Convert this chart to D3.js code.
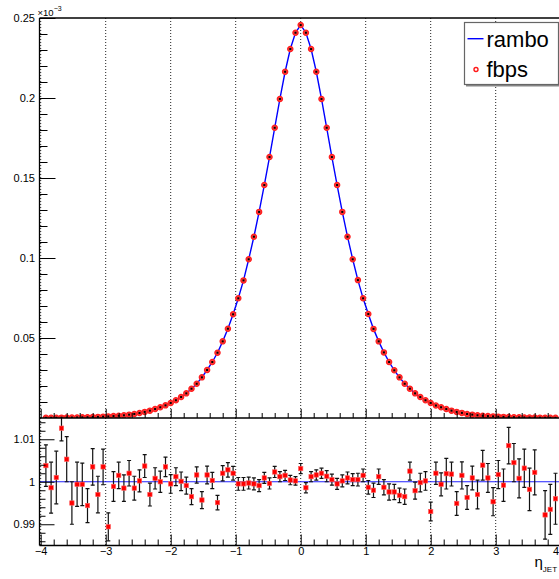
<!DOCTYPE html>
<html>
<head>
<meta charset="utf-8">
<script src="https://cdn.jsdelivr.net/npm/d3@7/dist/d3.min.js"></script>
<style>
  html, body { margin: 0; padding: 0; background: #fff; }
  svg { display: block; font-family: "Liberation Sans", Arial, Helvetica, sans-serif; }
</style>
</head>
<body>
<svg id="chart" width="559" height="579"></svg>
<script>
// ---------------- DATA ----------------
// bin centres: multiples of 0.08 from -3.92 to 3.92
const binIndex = d3.range(-49, 50);
const binWidth = 0.08;

// rambo distribution (units of 1e-3)
const rambo = [
  0.00014, 0.00016, 0.00019, 0.00022, 0.00026, 0.0003, 0.00036, 0.00042, 0.0005, 0.0006, 0.0007, 0.00085, 0.0010, 0.0012,
  0.0014, 0.0017, 0.0021, 0.0025, 0.0031, 0.0038, 0.0046, 0.0056, 0.0067, 0.0079, 0.0094, 0.0111, 0.0131, 0.0154, 0.0183, 0.0214,
  0.0254, 0.0300, 0.0350, 0.0408, 0.0479, 0.0558, 0.0648, 0.0748, 0.0860, 0.0992, 0.1133, 0.1288, 0.1456, 0.1631, 0.1814, 0.1994, 0.2164, 0.2306, 0.2408,
  0.2456,
  0.2408, 0.2306, 0.2164, 0.1994, 0.1814, 0.1631, 0.1456, 0.1288, 0.1133, 0.0992, 0.0862, 0.0748, 0.0650, 0.0557, 0.0479, 0.0410, 0.0350, 0.0298, 0.0254,
  0.0214, 0.0183, 0.0154, 0.0131, 0.0111, 0.0094, 0.0078, 0.0067, 0.0056, 0.0046, 0.0038, 0.0032, 0.0025, 0.0021, 0.0017, 0.0014,
  0.0012, 0.0010, 0.00085, 0.0007, 0.0006, 0.0005, 0.00042, 0.00036, 0.0003, 0.00026, 0.00022, 0.00019, 0.00016, 0.00014
];

// fbps distribution (units of 1e-3), read at the same bins
const fbps = [
  0.00014, 0.00016, 0.00019, 0.00022, 0.00026, 0.0003, 0.00036, 0.00042, 0.0005, 0.0006, 0.0007, 0.00085, 0.0010, 0.0012,
  0.0014, 0.0017, 0.0021, 0.0025, 0.0031, 0.0038, 0.0046, 0.0056, 0.0067, 0.0079, 0.0094, 0.0111, 0.0131, 0.0154, 0.0183, 0.0214,
  0.0254, 0.0300, 0.0350, 0.0408, 0.0479, 0.0558, 0.0648, 0.0748, 0.0860, 0.0992, 0.1133, 0.1288, 0.1456, 0.1631, 0.1814, 0.1994, 0.2164, 0.2306, 0.2408,
  0.2456,
  0.2408, 0.2306, 0.2164, 0.1994, 0.1814, 0.1631, 0.1456, 0.1288, 0.1133, 0.0992, 0.0862, 0.0748, 0.0650, 0.0557, 0.0479, 0.0410, 0.0350, 0.0298, 0.0254,
  0.0214, 0.0183, 0.0154, 0.0131, 0.0111, 0.0094, 0.0078, 0.0067, 0.0056, 0.0046, 0.0038, 0.0032, 0.0025, 0.0021, 0.0017, 0.0014,
  0.0012, 0.0010, 0.00085, 0.0007, 0.0006, 0.0005, 0.00042, 0.00036, 0.0003, 0.00026, 0.00022, 0.00019, 0.00016, 0.00014
];

// ratio fbps / rambo and its error
const ratio = [
  1.0038, 0.9986, 1.0010, 1.0126, 1.0053, 0.9950, 0.9994, 0.9994, 0.9944, 1.0035, 0.9970, 1.0035, 0.9894, 0.9989, 1.0015,
  0.9985, 1.0020, 0.9985, 1.0002, 1.0037, 0.9970, 1.0008, 1.0000, 1.0035, 0.9995, 1.0012, 1.0001, 0.9991, 0.9965, 1.0016,
  0.9957, 1.0016, 1.0003, 0.9951, 1.0020, 1.0028, 1.0020, 0.9995, 0.9995, 0.9997, 0.9995, 0.9991, 1.0009, 0.9996, 1.0023,
  1.0012, 1.0015, 1.0004, 1.0002,
  1.0031,
  0.9986, 1.0012, 1.0016, 1.0020, 1.0013, 1.0005, 0.9995, 1.0002, 1.0009, 1.0005, 1.0005, 1.0015, 0.9987, 0.9980, 1.0012,
  0.9987, 0.9976, 0.9976, 0.9968, 0.9965, 1.0025, 0.9979, 0.9998, 1.0002, 0.9930, 1.0020, 0.9994, 1.0019, 1.0018, 0.9949,
  1.0015, 0.9963, 1.0009, 0.9970, 1.0039, 1.0009, 0.9953, 1.0017, 0.9992, 1.0085, 1.0045, 1.0008, 1.0032, 0.9982, 1.0022,
  0.9830, 0.9922, 0.9935, 0.9960
];
const ratioErr = [
  0.0049, 0.0060, 0.0062, 0.0030, 0.0053, 0.0050, 0.0052, 0.0050, 0.0040, 0.0043, 0.0043, 0.0042, 0.0033, 0.0035, 0.0031,
  0.0031, 0.0030, 0.0028, 0.0026, 0.0027, 0.0027, 0.0025, 0.0025, 0.0023, 0.0022, 0.0021, 0.0022, 0.0020, 0.0019, 0.0019,
  0.0020, 0.0021, 0.0019, 0.0017, 0.0018, 0.0017, 0.0016, 0.0015, 0.0015, 0.0014, 0.0014, 0.0014, 0.0013, 0.0013, 0.0013,
  0.0012, 0.0012, 0.0011, 0.0010,
  0.0012,
  0.0012, 0.0012, 0.0012, 0.0012, 0.0013, 0.0013, 0.0013, 0.0014, 0.0014, 0.0014, 0.0015, 0.0015, 0.0016, 0.0017, 0.0018,
  0.0018, 0.0019, 0.0018, 0.0017, 0.0018, 0.0021, 0.0020, 0.0022, 0.0022, 0.0022, 0.0026, 0.0027, 0.0036, 0.0028, 0.0028,
  0.0032, 0.0028, 0.0028, 0.0034, 0.0035, 0.0034, 0.0033, 0.0033, 0.0038, 0.0043, 0.0045, 0.0046, 0.0045, 0.0050, 0.0053,
  0.0055, 0.0057, 0.0059, 0.0060
];

const topTickLabels = ["0.05", "0.1", "0.15", "0.2", "0.25"];
const topTickValues = [0.05, 0.1, 0.15, 0.2, 0.25];
const ratioTickLabels = ["0.99", "1", "1.01"];
const ratioTickValues = [0.99, 1.0, 1.01];
const xTickValues = [-4, -3, -2, -1, 0, 1, 2, 3, 4];
const legendLabels = ["rambo", "fbps"];
const yExponentLabel = "\u00d710";
const yExponentSup = "\u22123";
const xTitle = "\u03b7";
const xTitleSub = "JET";

// ---------------- LAYOUT ----------------
const svg = d3.select("#chart");
const W = 559, H = 579;
svg.append("rect").attr("width", W).attr("height", H).attr("fill", "#fff");

const frameLeft = 39.5, topY = 18, midY = 418, botY = 545.5, frameRight = 600;
const x = d3.scaleLinear().domain([-4, 4]).range([40.7, 560.7]);
const yTop = d3.scaleLinear().domain([0, 0.25]).range([midY, topY]);
const yRat = d3.scaleLinear().domain([0.985, 1.015]).range([botY, midY]);

const centres = binIndex.map(k => +(k * binWidth).toFixed(2));
const topData = centres.map((c, i) => ({ x: c, r: rambo[i], f: fbps[i] }));
const ratData = centres.map((c, i) => ({ x: c, v: ratio[i], e: ratioErr[i] }));

const defs = svg.append("defs");
defs.append("clipPath").attr("id", "clipTop").append("rect")
  .attr("x", frameLeft).attr("y", topY).attr("width", frameRight - frameLeft).attr("height", midY - topY);
defs.append("clipPath").attr("id", "clipRat").append("rect")
  .attr("x", frameLeft).attr("y", midY).attr("width", frameRight - frameLeft).attr("height", botY - midY);

// grid lines (dotted, integer x)
const gridVals = xTickValues.filter(v => x(v) < W);
[[topY, midY], [midY, botY]].forEach(([y0, y1]) => {
  svg.append("g").selectAll("line").data(gridVals).join("line")
    .attr("x1", d => x(d)).attr("x2", d => x(d))
    .attr("y1", y0).attr("y2", y1)
    .attr("stroke", "#222").attr("stroke-width", 1)
    .attr("stroke-dasharray", "1,2");
});

// ---------------- TOP PANEL ----------------
const gTop = svg.append("g").attr("clip-path", "url(#clipTop)");
gTop.append("path").datum(topData)
  .attr("d", d3.line().x(d => x(d.x)).y(d => yTop(d.r)))
  .attr("fill", "none").attr("stroke", "#0000ff").attr("stroke-width", 1.4);

const mk = gTop.append("g").selectAll("g").data(topData).join("g")
  .attr("transform", d => `translate(${x(d.x)},${yTop(d.f)})`);
mk.append("circle").attr("r", 2.6)
  .attr("fill", "#ff3a3a").attr("stroke", "#ff2020").attr("stroke-width", 1.3);
mk.append("rect").attr("x", -1).attr("y", -1).attr("width", 2).attr("height", 2).attr("fill", "#000");

// ---------------- RATIO PANEL ----------------
const gRat = svg.append("g").attr("clip-path", "url(#clipRat)");
gRat.append("line")
  .attr("x1", frameLeft).attr("x2", frameRight)
  .attr("y1", yRat(1)).attr("y2", yRat(1))
  .attr("stroke", "#2020ff").attr("stroke-width", 1.2);

const visRat = ratData.filter(d => d.v >= 0.985 && d.v <= 1.015);
const eb = gRat.append("g").selectAll("g").data(visRat).join("g");
eb.append("line")
  .attr("x1", d => x(d.x)).attr("x2", d => x(d.x))
  .attr("y1", d => yRat(d.v - d.e)).attr("y2", d => yRat(d.v + d.e))
  .attr("stroke", "#111").attr("stroke-width", 1.2);
eb.append("line")
  .attr("x1", d => x(d.x) - 2).attr("x2", d => x(d.x) + 2)
  .attr("y1", d => yRat(d.v + d.e)).attr("y2", d => yRat(d.v + d.e))
  .attr("stroke", "#111").attr("stroke-width", 1.2);
eb.append("line")
  .attr("x1", d => x(d.x) - 2).attr("x2", d => x(d.x) + 2)
  .attr("y1", d => yRat(d.v - d.e)).attr("y2", d => yRat(d.v - d.e))
  .attr("stroke", "#111").attr("stroke-width", 1.2);
eb.append("rect")
  .attr("x", d => x(d.x) - 2.2).attr("y", d => yRat(d.v) - 2.2)
  .attr("width", 4.4).attr("height", 4.4)
  .attr("fill", "#ff0000").attr("stroke", "#ff6060").attr("stroke-width", 0.6);

// ---------------- AXES ----------------
const fontSize = 11;
function styleAxis(g) {
  g.select(".domain").remove();
  g.selectAll("line").attr("stroke", "#000").attr("stroke-width", 1);
  g.selectAll("text").attr("font-size", fontSize).attr("fill", "#000")
    .attr("font-family", "Liberation Sans, Arial, sans-serif");
}

// top panel y ticks (inside)
const topMinor = d3.range(1, 25).map(i => i * 0.01).filter(v => Math.round(v * 100) % 5 !== 0);
svg.append("g").attr("transform", `translate(${frameLeft},0)`)
  .call(d3.axisRight(yTop).tickValues(topMinor).tickSize(8).tickFormat(""))
  .call(styleAxis);
svg.append("g").attr("transform", `translate(${frameLeft},0)`)
  .call(d3.axisRight(yTop).tickValues(topTickValues).tickSize(16).tickFormat(""))
  .call(styleAxis);
svg.append("g").attr("transform", `translate(${frameLeft},0)`)
  .call(d3.axisLeft(yTop).tickValues(topTickValues).tickSize(0).tickPadding(4.5)
    .tickFormat((d, i) => topTickLabels[i]))
  .call(styleAxis);

// ratio panel y ticks
const ratMinor = d3.range(-7, 8).map(i => 1 + i * 0.002).filter(v => Math.abs((v - 1) * 1000 % 10) > 0.5 && Math.abs((v - 1) * 1000 % 10) < 9.5);
svg.append("g").attr("transform", `translate(${frameLeft},0)`)
  .call(d3.axisRight(yRat).tickValues(ratMinor).tickSize(6).tickFormat(""))
  .call(styleAxis);
svg.append("g").attr("transform", `translate(${frameLeft},0)`)
  .call(d3.axisRight(yRat).tickValues(ratioTickValues).tickSize(15).tickFormat(""))
  .call(styleAxis);
svg.append("g").attr("transform", `translate(${frameLeft},0)`)
  .call(d3.axisLeft(yRat).tickValues(ratioTickValues).tickSize(0).tickPadding(4.5)
    .tickFormat((d, i) => ratioTickLabels[i]))
  .call(styleAxis);

// x ticks
const xMinor = d3.range(-20, 21).map(i => i * 0.2).filter(v => Math.abs(v - Math.round(v)) > 0.01);
[midY, botY].forEach((yy, j) => {
  svg.append("g").attr("transform", `translate(0,${yy})`)
    .call(d3.axisTop(x).tickValues(xMinor).tickSize(j === 0 ? 5 : 6).tickFormat(""))
    .call(styleAxis);
  svg.append("g").attr("transform", `translate(0,${yy})`)
    .call(d3.axisTop(x).tickValues(xTickValues).tickSize(j === 0 ? 9 : 11).tickFormat(""))
    .call(styleAxis);
});
const xLab = svg.append("g").attr("transform", `translate(0,${botY})`)
  .call(d3.axisBottom(x).tickValues(xTickValues).tickSize(0).tickPadding(2)
    .tickFormat(d3.format("d")))
  .call(styleAxis);
// keep the last label ("4") inside the picture, as in the reference where it sits at the edge
xLab.selectAll(".tick").filter(d => d === 4).select("text")
  .attr("text-anchor", "end").attr("x", W - 0.5 - x(4));

// frame lines
svg.append("line").attr("x1", frameLeft).attr("x2", frameLeft).attr("y1", topY).attr("y2", botY)
  .attr("stroke", "#000").attr("stroke-width", 1.3);
[topY, midY, botY].forEach(yy => {
  svg.append("line").attr("x1", frameLeft).attr("x2", W).attr("y1", yy).attr("y2", yy)
    .attr("stroke", "#000").attr("stroke-width", 1.3);
});

// exponent label
const expT = svg.append("text").attr("x", 37.5).attr("y", 15.5).attr("font-size", 9.5).attr("fill", "#000");
expT.append("tspan").text(yExponentLabel);
expT.append("tspan").attr("dy", -5).attr("font-size", 7).text(yExponentSup);

// x title
const xt = svg.append("text").attr("x", 534.5).attr("y", 567).attr("font-size", 15).attr("fill", "#000");
xt.append("tspan").text(xTitle);
xt.append("tspan").attr("dy", 5).attr("font-size", 8).text(xTitleSub);

// ---------------- LEGEND ----------------
const lg = svg.append("g");
lg.append("rect").attr("x", 466).attr("y", 24.5).attr("width", 94).attr("height", 62).attr("fill", "#888");
lg.append("rect").attr("x", 464.5).attr("y", 22.5).attr("width", 94).attr("height", 62)
  .attr("fill", "#fff").attr("stroke", "#666").attr("stroke-width", 1.2);
lg.append("line").attr("x1", 467.5).attr("x2", 483.5).attr("y1", 38.7).attr("y2", 38.7)
  .attr("stroke", "#0000ff").attr("stroke-width", 1.4);
lg.append("circle").attr("cx", 476).attr("cy", 69.5).attr("r", 2)
  .attr("fill", "none").attr("stroke", "#ff1a1a").attr("stroke-width", 1.4);
lg.selectAll("text.lab").data(legendLabels).join("text").attr("class", "lab")
  .attr("x", 486.5).attr("y", (d, i) => 46.5 + i * 30)
  .attr("font-size", 22).attr("fill", "#000").text(d => d);
</script>
</body>
</html>
